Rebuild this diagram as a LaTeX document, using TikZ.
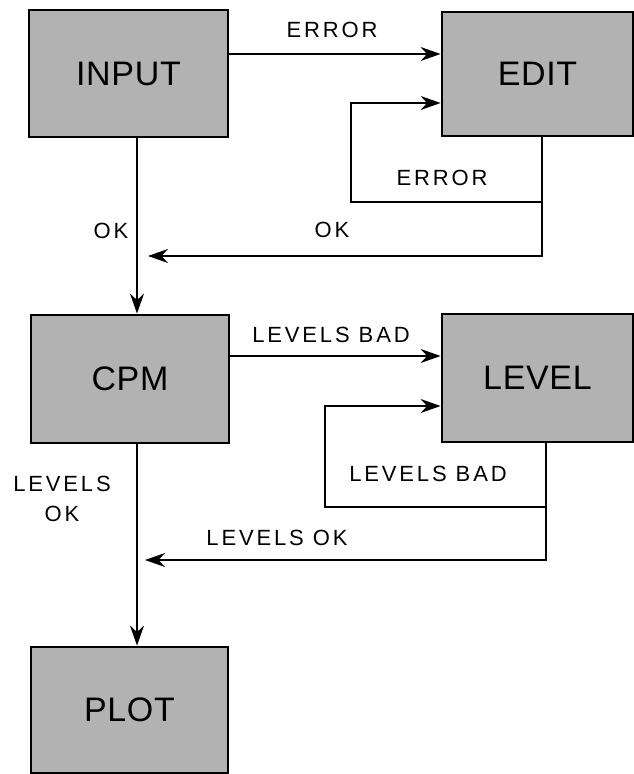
\documentclass[tikz,border=0pt]{standalone}
\usepackage{fontspec}
\setmainfont{Liberation Sans}[LetterSpace=13]
\newfontfamily\boxfont{Liberation Sans}[LetterSpace=2]
\usetikzlibrary{arrows.meta,positioning}

\tikzset{
  block/.style={draw,line width=1.4pt,fill=black!30,inner sep=0pt,
    font=\boxfont\fontsize{17}{20}\selectfont},
  lbl/.style={inner sep=0pt,font=\fontsize{11}{15}\selectfont},
  flow/.style={line width=0.85pt,-{Stealth[length=10pt,width=7pt]}},
}

\begin{document}
\begin{tikzpicture}[x=0.5pt,y=-0.5pt]
\useasboundingbox (0,0) rectangle (633,774);
% boxes
\node[block,minimum width=99.5pt,minimum height=63.5pt] (INPUT) at (128.5,73.5) {INPUT};
\node[block,minimum width=95.5pt,minimum height=62pt] (EDIT) at (537.5,74) {EDIT};
\node[block,minimum width=99pt,minimum height=64pt] (CPM) at (130,379) {CPM};
\node[block,minimum width=95.5pt,minimum height=64pt] (LEVEL) at (537.5,378) {LEVEL};
\node[block,minimum width=98.5pt,minimum height=63pt] (PLOT) at (129.5,710) {PLOT};
% bends
\coordinate (col) at (137,0);
\coordinate (err) at (0,54);
\coordinate (eo) at (542,202);
\coordinate (el) at (351,202);
\coordinate (eb) at (0,103);
\coordinate (okend) at (148,256);
\coordinate (bad) at (0,356);
\coordinate (lo) at (546,507);
\coordinate (ll) at (325,507);
\coordinate (lb) at (0,406);
\coordinate (lokend) at (145,560);
% connectors
\draw[flow] (INPUT.east |- err) -- (EDIT.west |- err);
\draw[flow] (EDIT.south -| eo) -- (eo) -- (el) |- (EDIT.west |- eb);
\draw[flow] (eo) |- (okend);
\draw[flow] (INPUT.south -| col) -- (CPM.north -| col);
\draw[flow] (CPM.east |- bad) -- (LEVEL.west |- bad);
\draw[flow] (LEVEL.south -| lo) -- (lo) -- (ll) |- (LEVEL.west |- lb);
\draw[flow] (lo) |- (lokend);
\draw[flow] (CPM.south -| col) -- (PLOT.north -| col);
% labels
\node[lbl] (errA) at (332,30) {ERROR};
\node[lbl] (errB) at (442,178) {ERROR};
\node[lbl] (okA) at (111,231) {OK};
\node[lbl] (okB) at (332,230) {OK};
\node[lbl] (badA) at (331,335) {LEVELS BAD};
\node[lbl] (badB) at (428,474) {LEVELS BAD};
\node[lbl] (lokA) at (277,538) {LEVELS OK};
\node[lbl,align=center] (lokB) at (62,499) {LEVELS\\OK};
\end{tikzpicture}
\end{document}
